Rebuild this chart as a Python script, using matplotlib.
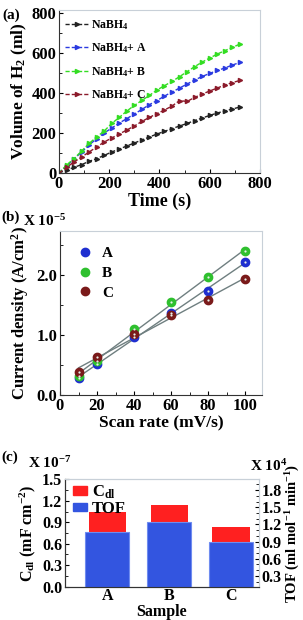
import numpy as np
import matplotlib.pyplot as plt
from matplotlib.patches import Patch
from matplotlib.ticker import MultipleLocator

plt.rcParams['font.family'] = ['Liberation Serif', 'DejaVu Serif']
plt.rcParams['font.weight'] = 'bold'
plt.rcParams['mathtext.fontset'] = 'custom'
plt.rcParams['mathtext.rm'] = 'Liberation Serif:bold'
plt.rcParams['mathtext.it'] = 'Liberation Serif:bold'
plt.rcParams['mathtext.bf'] = 'Liberation Serif:bold'

# (a) hydrogen volume vs time
time_s = [0, 30, 60, 90, 120, 150, 180, 210, 240, 270, 300, 330, 360,
          390, 420, 450, 480, 510, 540, 570, 600, 630, 660, 690, 720]
vol_nabh4 = [0, 15, 28, 42, 58, 72, 88, 105, 120, 135, 150, 165, 180,
             195, 208, 222, 235, 248, 262, 275, 288, 300, 310, 320, 330]
vol_a = [0, 35, 70, 105, 140, 172, 200, 225, 250, 272, 295, 318, 342,
         362, 385, 405, 425, 445, 465, 483, 498, 513, 525, 540, 553]
vol_b = [0, 40, 72, 110, 148, 180, 210, 248, 278, 310, 338, 363, 388,
         415, 437, 458, 482, 507, 532, 555, 575, 595, 612, 628, 645]
vol_c = [0, 28, 55, 80, 105, 130, 155, 175, 195, 215, 235, 258, 278,
         297, 315, 335, 362, 358, 378, 395, 410, 425, 440, 452, 463]
labels_a = ['NaBH$_4$', 'NaBH$_4$+ A', 'NaBH$_4$+ B', 'NaBH$_4$+ C']
colors_a = ['#222222', '#2a3ae0', '#33dd22', '#8b1a2a']

# (b) current density vs scan rate (x 10^-5 A/cm2)
scan_rate = [10, 20, 40, 60, 80, 100]
cd_a = [0.28, 0.52, 0.96, 1.37, 1.73, 2.22]
cd_b = [0.32, 0.57, 1.10, 1.55, 1.96, 2.39]
cd_c = [0.38, 0.64, 1.01, 1.33, 1.58, 1.93]
samples = ['A', 'B', 'C']
colors_b = ['#1f2fd0', '#2fc02f', '#7a1a1a']

# (c) Cdl (x 10^-7) and TOF (x 10^4)
cdl = [1.05, 1.14, 0.84]
tof = [1.07, 1.25, 0.89]

fig = plt.figure(figsize=(3.03, 6.2), dpi=100)

def style(ax, size=12):
    for s in ['left', 'bottom']:
        ax.spines[s].set_color('#333333')
    for s in ['top', 'right']:
        ax.spines[s].set_color('#c8d0d8')
    ax.tick_params(direction='in', length=3, width=0.8, labelsize=size, pad=2)
    ax.tick_params(which='minor', direction='in', length=2, width=0.6)
    for lab in ax.get_xticklabels() + ax.get_yticklabels():
        lab.set_fontweight('bold')

# ---- (a)
ax1 = fig.add_axes([0.1947, 0.721, 0.663, 0.263])
for v, lab, c in zip([vol_nabh4, vol_a, vol_b, vol_c], labels_a, colors_a):
    ax1.plot(time_s, v, ls=(0, (3, 1.5)), lw=1.0, color=c, marker='>',
             ms=3, label=lab)
ax1.set_xlim(0, 800)
ax1.set_ylim(0, 816)
ax1.xaxis.set_major_locator(MultipleLocator(200))
ax1.xaxis.set_minor_locator(MultipleLocator(100))
ax1.yaxis.set_major_locator(MultipleLocator(200))
ax1.yaxis.set_minor_locator(MultipleLocator(100))
style(ax1)
ax1.set_xlabel('Time (s)', fontsize=13, fontweight='bold', labelpad=1)
ax1.set_ylabel('Volume of H$_2$ (ml)', fontsize=12.5, fontweight='bold', labelpad=2)
ax1.legend(loc='upper left', frameon=False, fontsize=8.5, handlelength=2.0,
           handletextpad=0.2, labelspacing=0.8, numpoints=1,
           borderaxespad=0.1, bbox_to_anchor=(0.0, 0.985))
fig.text(0.008, 0.987, '(a)', fontsize=11, fontweight='bold', va='top')

# ---- (b)
ax2 = fig.add_axes([0.198, 0.3629, 0.667, 0.2645])
xs = np.array(scan_rate)
for y, lab, c in zip([cd_a, cd_b, cd_c], samples, colors_b):
    k, b = np.polyfit(xs, y, 1)
    ax2.plot(xs, k * xs + b, color='#6f7f80', lw=1.0, zorder=1)
for y, lab, c in zip([cd_a, cd_b, cd_c], samples, colors_b):
    ax2.plot(xs, y, ls='none', marker='o', ms=6, color=c, mec=c, label=lab,
             zorder=3)
    ax2.plot(xs, y, ls='none', marker='o', ms=1.6, color='#e8f0e8', mec='none',
             zorder=4)
ax2.set_xlim(0, 109.2)
ax2.set_ylim(0, 2.73)
ax2.xaxis.set_major_locator(MultipleLocator(20))
ax2.xaxis.set_minor_locator(MultipleLocator(10))
ax2.yaxis.set_major_locator(MultipleLocator(1.0))
ax2.yaxis.set_minor_locator(MultipleLocator(0.5))
ax2.yaxis.set_major_formatter(plt.FormatStrFormatter('%.1f'))
style(ax2)
ax2.set_xlabel('Scan rate (mV/s)', fontsize=12.5, fontweight='bold', labelpad=1)
ax2.set_ylabel('Current density (A/cm$^2$)', fontsize=12, fontweight='bold',
               labelpad=4)
handles, labs = ax2.get_legend_handles_labels()
ax2.legend(handles, labs, loc='upper left', frameon=False, fontsize=11,
           handlelength=1.0, handletextpad=0.6, labelspacing=0.4,
           bbox_to_anchor=(0.02, 0.99))
fig.text(0.005, 0.65, '(b)', fontsize=11, fontweight='bold', va='center')
fig.text(0.075, 0.643, 'X 10$^{-5}$', fontsize=11, fontweight='bold', va='center')

# ---- (c)
ax3 = fig.add_axes([0.2145, 0.0537, 0.640, 0.1732])
pos = np.arange(1, len(samples) + 1)
ax3.bar(pos, cdl, width=0.6, color='#ff2020', zorder=1)
ax3.set_xlim(0.318, 3.45)
ax3.set_ylim(0, 1.5)
ax3.set_xticks(pos)
ax3.set_xticklabels(samples)
ax3.yaxis.set_major_locator(MultipleLocator(0.3))
ax3.yaxis.set_minor_locator(MultipleLocator(0.15))
ax3.yaxis.set_major_formatter(plt.FormatStrFormatter('%.1f'))
style(ax3, 11.5)
ax3.tick_params(axis='x', pad=1)
ax3.set_xlabel('Sample', fontsize=11.5, fontweight='bold', labelpad=0)
ax3.set_ylabel('C$_{dl}$ (mF cm$^{-2}$)', fontsize=11.5, fontweight='bold',
               labelpad=3)

ax4 = ax3.twinx()
ax4.bar(pos, tof, width=0.71, color='#3355e0', edgecolor='#6f8cf0', lw=0.8)
ax4.set_ylim(0.11, 1.99)
ax4.yaxis.set_minor_locator(MultipleLocator(0.1))
style(ax4, 11.5)
ax4.set_yticks([0.3, 0.6, 0.9, 1.2, 1.5, 1.8])
ax4.set_yticklabels(['%.1f' % t for t in [0.3, 0.6, 0.9, 1.2, 1.5, 1.8]],
                    fontweight='bold')
ax4.set_ylabel('TOF (ml mol$^{-1}$ min$^{-1}$)', fontsize=10.5, fontweight='bold',
               labelpad=1)
ax4.legend([Patch(color='#ff2020'), Patch(color='#3355e0')],
           ['C$_{dl}$', 'TOF'], loc='upper left', frameon=False, fontsize=12,
           handlelength=0.8, handleheight=0.4, handletextpad=0.3,
           labelspacing=0.0, borderaxespad=0.1, bbox_to_anchor=(0.0, 1.04))
fig.text(0.005, 0.262, '(c)', fontsize=11, fontweight='bold', va='center')
fig.text(0.092, 0.253, 'X 10$^{-7}$', fontsize=11, fontweight='bold', va='center')
fig.text(0.825, 0.249, 'X 10$^{4}$', fontsize=11, fontweight='bold', va='center')

fig.savefig('out.png', dpi=100)
